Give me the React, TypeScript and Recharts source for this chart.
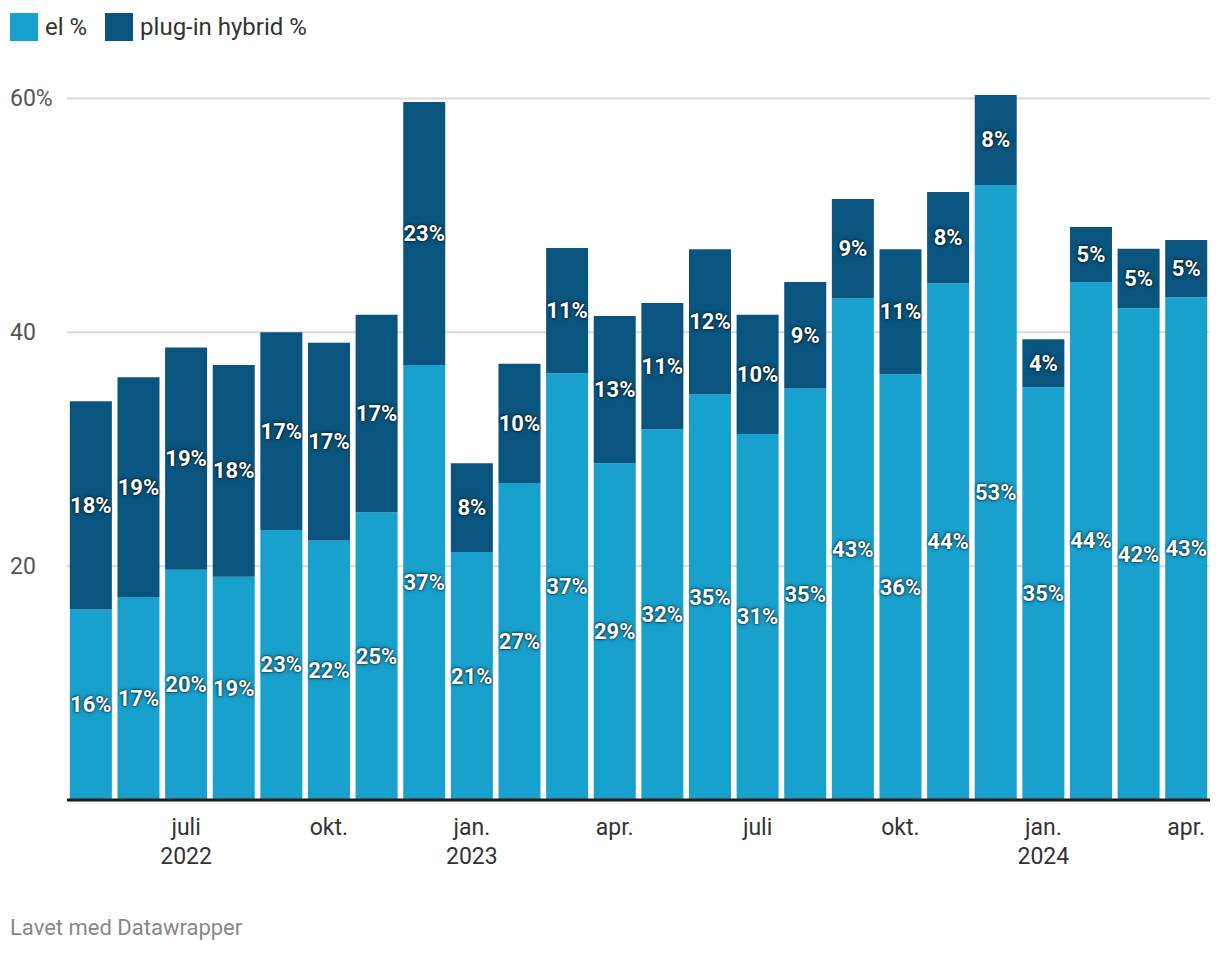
import React from 'react';
import { BarChart, Bar, XAxis, YAxis, CartesianGrid, LabelList } from 'recharts';

const months = [
  'maj 2022', 'juni 2022', 'juli 2022', 'aug. 2022', 'sep. 2022', 'okt. 2022',
  'nov. 2022', 'dec. 2022', 'jan. 2023', 'feb. 2023', 'mar. 2023', 'apr. 2023',
  'maj 2023', 'juni 2023', 'juli 2023', 'aug. 2023', 'sep. 2023', 'okt. 2023',
  'nov. 2023', 'dec. 2023', 'jan. 2024', 'feb. 2024', 'mar. 2024', 'apr. 2024',
];

const elValues = [
  16.3, 17.35, 19.7, 19.1, 23.1, 22.2, 24.6, 37.2, 21.2, 27.1, 36.5, 28.8,
  31.7, 34.7, 31.3, 35.2, 42.9, 36.4, 44.2, 52.6, 35.3, 44.3, 42.05, 43.0,
];

const hybridValues = [
  17.8, 18.8, 19.0, 18.1, 16.9, 16.9, 16.9, 22.5, 7.6, 10.2, 10.7, 12.6,
  10.8, 12.4, 10.2, 9.1, 8.5, 10.7, 7.8, 7.7, 4.1, 4.7, 5.1, 4.9,
];

// category -> [month label, year label]
const xTickLabels: Record<string, [string, string]> = {
  'juli 2022': ['juli', '2022'],
  'okt. 2022': ['okt.', ''],
  'jan. 2023': ['jan.', '2023'],
  'apr. 2023': ['apr.', ''],
  'juli 2023': ['juli', ''],
  'okt. 2023': ['okt.', ''],
  'jan. 2024': ['jan.', '2024'],
  'apr. 2024': ['apr.', ''],
};

const yTicks = [20, 40, 60];

const EL_COLOR = '#18a1cd';
const HYBRID_COLOR = '#09557f';
const FONT = 'Roboto, sans-serif';

const data = months.map((m, i) => ({ month: m, el: elValues[i], hybrid: hybridValues[i] }));

const XTick = (props: any) => {
  const { x, y, payload } = props;
  const lbl = xTickLabels[payload.value];
  if (!lbl) return null;
  return (
    <g>
      <text x={x} y={y + 35} textAnchor="middle" fill="#333" fontSize={23} fontFamily={FONT}>
        {lbl[0]}
      </text>
      {lbl[1] && (
        <text x={x} y={y + 64} textAnchor="middle" fill="#333" fontSize={23} fontFamily={FONT}>
          {lbl[1]}
        </text>
      )}
    </g>
  );
};

const YTick = (props: any) => {
  const { y, payload } = props;
  return (
    <text x={10} y={y} dy={8} textAnchor="start" fill="#555" fontSize={23} fontFamily={FONT}>
      {payload.value === 60 ? '60%' : payload.value}
    </text>
  );
};

const ValueLabel = (props: any) => {
  const { x, y, width, height, value } = props;
  return (
    <text
      x={x + width / 2}
      y={y + height / 2}
      textAnchor="middle"
      dominantBaseline="central"
      fill="#fff"
      fontSize={22}
      fontWeight={700}
      fontFamily={FONT}
      style={{ textShadow: '0 0 2px rgba(0,0,0,0.9), 0 0 4px rgba(0,0,0,0.6)' }}
    >
      {Math.round(value)}%
    </text>
  );
};

const LegendItem = ({ color, label }: { color: string; label: string }) => (
  <div style={{ display: 'flex', alignItems: 'center', marginRight: 18 }}>
    <div style={{ width: 28, height: 28, background: color, marginRight: 7 }} />
    <span style={{ fontSize: 24, color: '#333' }}>{label}</span>
  </div>
);

export default function App() {
  return (
    <div
      style={{
        position: 'absolute',
        left: 0,
        top: 0,
        width: 1220,
        height: 954,
        background: '#fff',
        fontFamily: FONT,
      }}
    >
      <div style={{ position: 'absolute', left: 10, top: 13, display: 'flex' }}>
        <LegendItem color={EL_COLOR} label="el %" />
        <LegendItem color={HYBRID_COLOR} label="plug-in hybrid %" />
      </div>
      <div style={{ position: 'absolute', left: 0, top: 0 }}>
        <BarChart
          width={1220}
          height={954}
          data={data}
          margin={{ top: 75, right: 10, bottom: 74, left: 10 }}
          barCategoryGap="6%"
        >
          <CartesianGrid vertical={false} stroke="#d9d9d9" strokeWidth={2} horizontalValues={yTicks} />
          <XAxis
            dataKey="month"
            interval={0}
            tickLine={false}
            tickSize={0}
            tickMargin={0}
            axisLine={{ stroke: '#1a1a1a', strokeWidth: 3 }}
            tick={<XTick />}
            height={80}
          />
          <YAxis
            domain={[0, 62]}
            ticks={yTicks}
            axisLine={false}
            tickLine={false}
            width={57}
            tick={<YTick />}
          />
          <Bar dataKey="el" stackId="a" fill={EL_COLOR} isAnimationActive={false}>
            <LabelList dataKey="el" content={<ValueLabel />} />
          </Bar>
          <Bar dataKey="hybrid" stackId="a" fill={HYBRID_COLOR} isAnimationActive={false}>
            <LabelList dataKey="hybrid" content={<ValueLabel />} />
          </Bar>
        </BarChart>
      </div>
      <div style={{ position: 'absolute', left: 10, top: 915, fontSize: 22, color: '#888' }}>
        Lavet med Datawrapper
      </div>
    </div>
  );
}
